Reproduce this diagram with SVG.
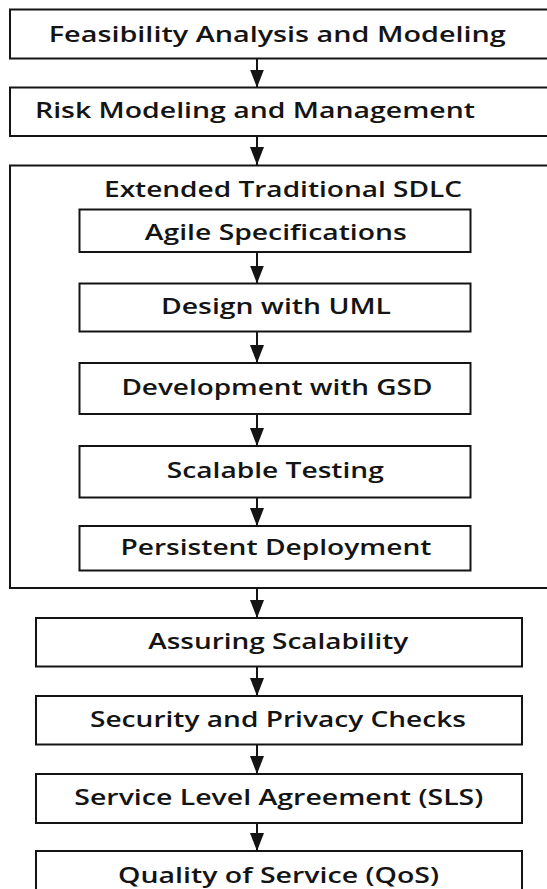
<svg xmlns="http://www.w3.org/2000/svg" width="547" height="889" viewBox="0 0 547 889">
  <defs>
    <style>
      .box { fill: #ffffff; stroke: #141414; stroke-width: 2; }
      .lbl { font-family: "Open Sans", "Noto Sans", "Liberation Sans", sans-serif; font-weight: 600; font-size: 22px; fill: #141414; }
      .edge { stroke: #141414; stroke-width: 2; fill: none; marker-end: url(#head); }
    </style>
    <marker id="head" viewBox="0 0 18 14" refX="18" refY="7" markerUnits="userSpaceOnUse" markerWidth="18" markerHeight="14" orient="auto">
      <path d="M0,0 L18,7 L0,14 Z" fill="#141414"/>
    </marker>
  </defs>
  <rect width="547" height="889" fill="#ffffff"/>

  <!-- outer container for the SDLC stages -->
  <g id="sdlc">
    <rect class="box" x="10" y="165.5" width="560" height="422.5"/>
    <text class="lbl" x="104" y="196.7" textLength="358" lengthAdjust="spacingAndGlyphs">Extended Traditional SDLC</text>
  </g>

  <g id="feasibility">
    <rect class="box" x="10" y="9.5" width="560" height="49"/>
    <text class="lbl" x="48.8" y="41.7" textLength="457" lengthAdjust="spacingAndGlyphs">Feasibility Analysis and Modeling</text>
  </g>
  <g id="risk">
    <rect class="box" x="10" y="87.5" width="560" height="48.5"/>
    <text class="lbl" x="35" y="118.3" textLength="440" lengthAdjust="spacingAndGlyphs">Risk Modeling and Management</text>
  </g>

  <g id="agile">
    <rect class="box" x="79.5" y="209.5" width="391" height="42.5"/>
    <text class="lbl" x="144.8" y="240" textLength="262" lengthAdjust="spacingAndGlyphs">Agile Specifications</text>
  </g>
  <g id="design">
    <rect class="box" x="79.5" y="283.5" width="391" height="48"/>
    <text class="lbl" x="161" y="314" textLength="230" lengthAdjust="spacingAndGlyphs">Design with UML</text>
  </g>
  <g id="development">
    <rect class="box" x="79.5" y="363" width="391" height="51"/>
    <text class="lbl" x="121.4" y="395" textLength="311" lengthAdjust="spacingAndGlyphs">Development with GSD</text>
  </g>
  <g id="testing">
    <rect class="box" x="79.5" y="446" width="391" height="51.5"/>
    <text class="lbl" x="166.8" y="478.3" textLength="217" lengthAdjust="spacingAndGlyphs">Scalable Testing</text>
  </g>
  <g id="deployment">
    <rect class="box" x="79.5" y="526" width="391" height="44.5"/>
    <text class="lbl" x="120.4" y="555" textLength="311" lengthAdjust="spacingAndGlyphs">Persistent Deployment</text>
  </g>

  <g id="scalability">
    <rect class="box" x="36" y="618" width="486" height="48.5"/>
    <text class="lbl" x="148.3" y="649" textLength="260" lengthAdjust="spacingAndGlyphs">Assuring Scalability</text>
  </g>
  <g id="security">
    <rect class="box" x="36" y="696" width="486" height="48.5"/>
    <text class="lbl" x="90" y="727.3" textLength="376" lengthAdjust="spacingAndGlyphs">Security and Privacy Checks</text>
  </g>
  <g id="sla">
    <rect class="box" x="36" y="774" width="486" height="49"/>
    <text class="lbl" x="74.3" y="805" textLength="409" lengthAdjust="spacingAndGlyphs">Service Level Agreement (SLS)</text>
  </g>
  <g id="qos">
    <rect class="box" x="36" y="851" width="486" height="60"/>
    <text class="lbl" x="118" y="883" textLength="321" lengthAdjust="spacingAndGlyphs">Quality of Service (QoS)</text>
  </g>

  <!-- connectors -->
  <g id="connectors">
    <line class="edge" x1="257" y1="58.5" x2="257" y2="87.5"/>
    <line class="edge" x1="257" y1="136" x2="257" y2="165"/>
    <line class="edge" x1="257" y1="252" x2="257" y2="283.5"/>
    <line class="edge" x1="257" y1="331.5" x2="257" y2="363"/>
    <line class="edge" x1="257" y1="414" x2="257" y2="446"/>
    <line class="edge" x1="257" y1="497.5" x2="257" y2="526"/>
    <line class="edge" x1="257" y1="588" x2="257" y2="618"/>
    <line class="edge" x1="257" y1="666.5" x2="257" y2="696"/>
    <line class="edge" x1="257" y1="744.5" x2="257" y2="774"/>
    <line class="edge" x1="257" y1="823" x2="257" y2="851"/>
  </g>
</svg>
